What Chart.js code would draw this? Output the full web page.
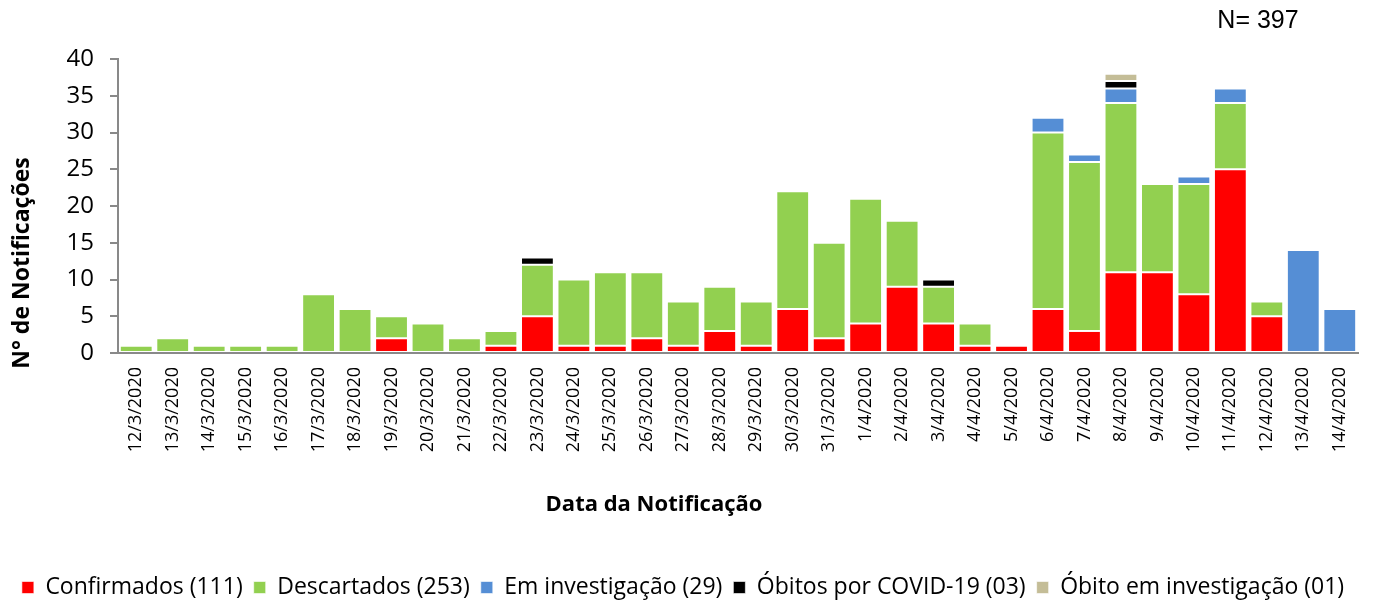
<!DOCTYPE html>
<html>
<head>
<meta charset="utf-8">
<script src="https://cdn.jsdelivr.net/npm/chart.js@4/dist/chart.umd.min.js"></script>
<style>
  html, body { margin: 0; padding: 0; background: #fff; }
  #wrap { width: 1375px; height: 601px; }
</style>
</head>
<body>
<div id="wrap"><canvas id="chart"></canvas></div>
<script>
// Datas de notificação
const datas = ['12/3/2020','13/3/2020','14/3/2020','15/3/2020','16/3/2020','17/3/2020','18/3/2020',
  '19/3/2020','20/3/2020','21/3/2020','22/3/2020','23/3/2020','24/3/2020','25/3/2020','26/3/2020',
  '27/3/2020','28/3/2020','29/3/2020','30/3/2020','31/3/2020','1/4/2020','2/4/2020','3/4/2020',
  '4/4/2020','5/4/2020','6/4/2020','7/4/2020','8/4/2020','9/4/2020','10/4/2020','11/4/2020',
  '12/4/2020','13/4/2020','14/4/2020'];

const confirmados    = [0,0,0,0,0,0,0,2,0,0,1,5,1,1,2,1,3,1,6,2,4,9,4,1,1,6,3,11,11,8,25,5,0,0];
const descartados    = [1,2,1,1,1,8,6,3,4,2,2,7,9,10,9,6,6,6,16,13,17,9,5,3,0,24,23,23,12,15,9,2,0,0];
const emInvestigacao = [0,0,0,0,0,0,0,0,0,0,0,0,0,0,0,0,0,0,0,0,0,0,0,0,0,2,1,2,0,1,2,0,14,6];
const obitosCovid    = [0,0,0,0,0,0,0,0,0,0,0,1,0,0,0,0,0,0,0,0,0,0,1,0,0,0,0,1,0,0,0,0,0,0];
const obitoInvest    = [0,0,0,0,0,0,0,0,0,0,0,0,0,0,0,0,0,0,0,0,0,0,0,0,0,0,0,1,0,0,0,0,0,0];

const yTicks = [0, 5, 10, 15, 20, 25, 30, 35, 40];

const FONTE = "'Open Sans', sans-serif";

function serie(label, data, cor) {
    return {
        label: label,
        data: data,
        backgroundColor: cor,
        borderColor: 'rgba(255,255,255,0.6)',
        borderWidth: 1,
        borderSkipped: false,
        barPercentage: 0.9,
        categoryPercentage: 1.0
    };
}

// títulos dos eixos e total N (desenhados à parte, fora do centro dos eixos)
const textosExtras = {
    id: 'textosExtras',
    afterDraw(chart) {
        const ctx = chart.ctx;
        ctx.save();
        ctx.fillStyle = '#000';
        ctx.textAlign = 'center';
        ctx.textBaseline = 'middle';
        ctx.font = "bold 22px " + FONTE;
        ctx.fillText('Data da Notificação', 654, 505);
        ctx.font = "25px 'Liberation Sans', Arial, sans-serif";
        ctx.fillText('N= 397', 1258, 21);
        ctx.translate(22, 263);
        ctx.rotate(-Math.PI / 2);
        ctx.font = "bold 23px " + FONTE;
        ctx.fillText('N° de Notificações', 0, 0);
        ctx.restore();
    }
};

new Chart(document.getElementById('chart'), {
    type: 'bar',
    data: {
        labels: datas,
        datasets: [
            serie('Confirmados (111)', confirmados, '#FF0000'),
            serie('Descartados (253)', descartados, '#92D050'),
            serie('Em investigação (29)', emInvestigacao, '#558ED5'),
            serie('Óbitos por COVID-19 (03)', obitosCovid, '#000000'),
            serie('Óbito em investigação (01)', obitoInvest, '#C4BD97')
        ]
    },
    options: {
        responsive: true,
        maintainAspectRatio: false,
        animation: false,
        layout: { padding: { top: 59, left: 8, right: 17, bottom: -8 } },
        plugins: {
            tooltip: { enabled: false },
            legend: {
                position: 'bottom',
                labels: {
                    font: { family: FONTE, size: 23 },
                    color: '#000',
                    boxWidth: 12,
                    boxHeight: 12,
                    padding: 11
                }
            }
        },
        scales: {
            x: {
                stacked: true,
                grid: { display: false },
                border: { display: true, color: '#898989', width: 2 },
                ticks: {
                    autoSkip: false,
                    maxRotation: 90,
                    minRotation: 90,
                    color: '#000',
                    padding: 6,
                    font: { family: FONTE, size: 18 }
                },
                afterFit: s => { s.height = 212; }
            },
            y: {
                stacked: true,
                min: 0,
                max: 40,
                afterBuildTicks: s => { s.ticks = yTicks.map(v => ({ value: v })); },
                grid: {
                    drawOnChartArea: false,
                    drawTicks: true,
                    tickLength: 8,
                    color: '#898989',
                    lineWidth: 2
                },
                border: { display: true, color: '#898989', width: 2 },
                ticks: {
                    color: '#000',
                    padding: 16,
                    font: { family: FONTE, size: 24 }
                },
                afterFit: s => { s.width = 110; }
            }
        }
    },
    plugins: [textosExtras]
});
</script>
</body>
</html>
